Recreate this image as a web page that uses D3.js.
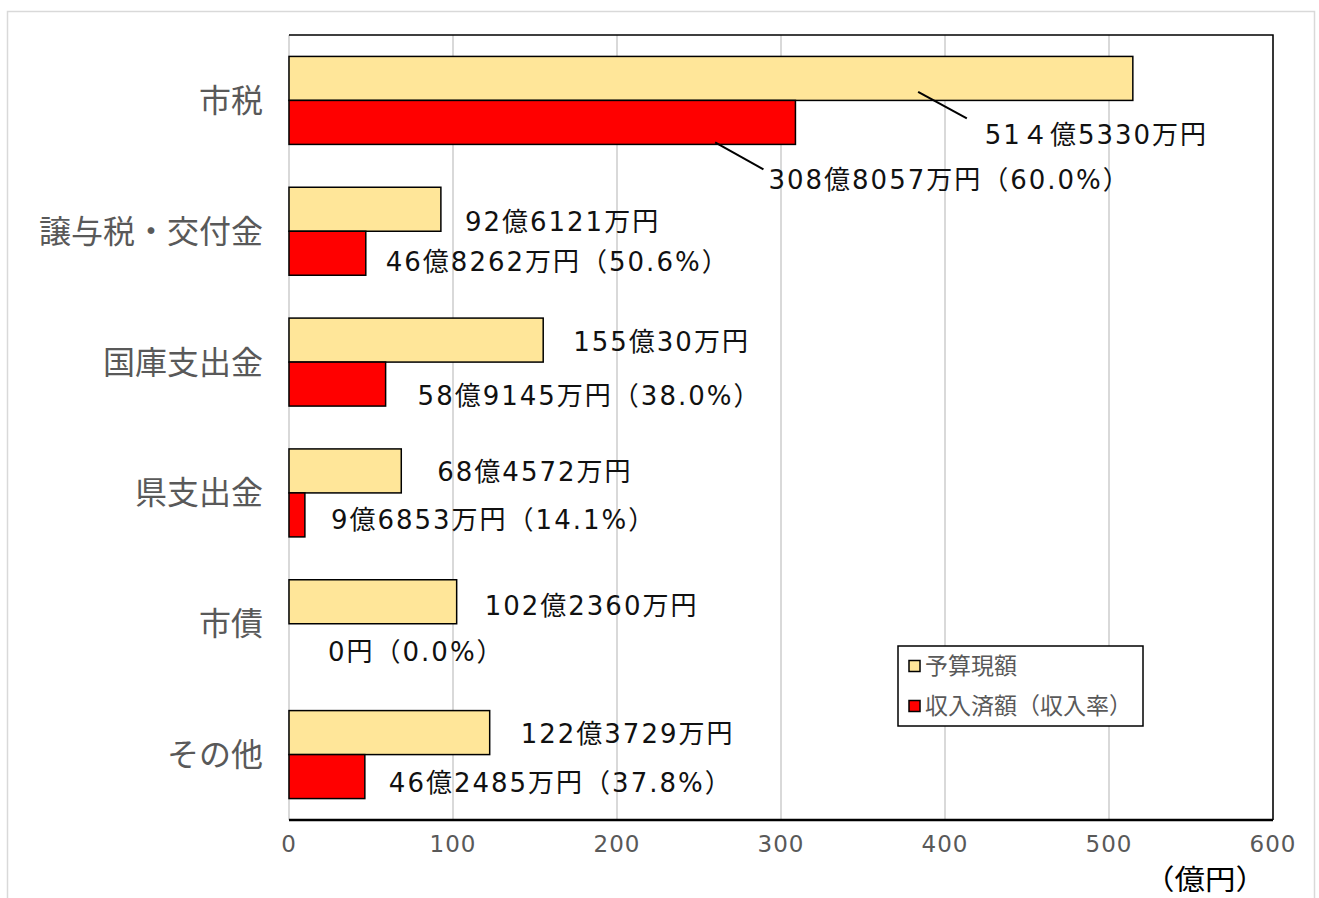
<!DOCTYPE html>
<html>
<head>
<meta charset="utf-8">
<script src="https://cdn.jsdelivr.net/npm/d3@7"></script>
<style>
  body { margin: 0; background: #fff; }
  svg { display: block; }
</style>
</head>
<body>
<div id="chart"></div>
<script>
// data (億円)
const categories = ["市税", "譲与税・交付金", "国庫支出金", "県支出金", "市債", "その他"]
const budget = [514.5330, 92.6121, 155.0030, 68.4572, 102.2360, 122.3729]
const received = [308.8057, 46.8262, 58.9145, 9.6853, 0, 46.2485]
const budgetLabels = ["51４億5330万円", "92億6121万円", "155億30万円", "68億4572万円", "102億2360万円", "122億3729万円"]
const receivedLabels = ["308億8057万円（60.0%）", "46億8262万円（50.6%）", "58億9145万円（38.0%）", "9億6853万円（14.1%）", "0円（0.0%）", "46億2485万円（37.8%）"]
const xTicks = [0, 100, 200, 300, 400, 500, 600]
const seriesNames = ["予算現額", "収入済額（収入率）"]

// label placement (gap from bar end in px, shift from bar centre in px)
const budgetGap = [0, 24, 30, 36, 28, 31]
const budgetDy = [0, 12.5, 1.6, 0.8, 4.3, 0.7]
const receivedGap = [0, 20, 32, 26, 39, 24]
const receivedDy = [0, 8.5, 11.9, 5.1, 6, 6.4]

const width = 1319, height = 898
const mLeft = 289, mRight = 1273, mTop = 35, mBottom = 820
const yellow = "#FFE699", red = "#FF0000"
const labelFont = "'DejaVu Sans', 'Noto Sans CJK JP', sans-serif"
const cjkFont = "'Noto Sans CJK JP', sans-serif"

const svg = d3.select("#chart").append("svg")
  .attr("width", width)
  .attr("height", height)

// outer frame
svg.append("rect")
  .attr("x", 7.5).attr("y", 11.5)
  .attr("width", 1307).attr("height", 900)
  .attr("fill", "#fff")
  .attr("stroke", "#d9d9d9")
  .attr("stroke-width", 1.5)

const x = d3.scaleLinear().domain([0, 600]).range([mLeft, mRight])
const y = d3.scaleBand().domain(categories).range([mTop, mBottom])
const yInner = d3.scaleBand().domain(["b", "r"]).range([0, y.bandwidth()]).paddingOuter(0.487)

// gridlines
svg.append("g")
  .selectAll("line")
  .data(xTicks)
  .join("line")
  .attr("x1", d => x(d)).attr("x2", d => x(d))
  .attr("y1", mTop).attr("y2", mBottom)
  .attr("stroke", "#d9d9d9")
  .attr("stroke-width", 2)

// plot frame (top, right, bottom)
svg.append("path")
  .attr("d", `M${mLeft},${mTop}H${mRight}V${mBottom}`)
  .attr("fill", "none")
  .attr("stroke", "#000")
  .attr("stroke-width", 1.5)
svg.append("line")
  .attr("x1", mLeft).attr("x2", mRight)
  .attr("y1", mBottom).attr("y2", mBottom)
  .attr("stroke", "#000")
  .attr("stroke-width", 2.5)

// bars
const groups = svg.append("g")
  .selectAll("g")
  .data(categories)
  .join("g")
  .attr("transform", d => `translate(0,${y(d)})`)

groups.append("rect")
  .attr("x", x(0))
  .attr("y", yInner("b"))
  .attr("width", (d, i) => x(budget[i]) - x(0))
  .attr("height", yInner.bandwidth())
  .attr("fill", yellow)
  .attr("stroke", "#000")
  .attr("stroke-width", 1.5)

groups.filter((d, i) => received[i] > 0).append("rect")
  .attr("x", x(0))
  .attr("y", yInner("r"))
  .attr("width", d => x(received[categories.indexOf(d)]) - x(0))
  .attr("height", yInner.bandwidth())
  .attr("fill", red)
  .attr("stroke", "#000")
  .attr("stroke-width", 1.5)

// data labels
const bMid = yInner("b") + yInner.bandwidth() / 2
const rMid = yInner("r") + yInner.bandwidth() / 2

groups.each(function (d, i) {
  const g = d3.select(this)
  let bx = x(budget[i]) + budgetGap[i], by = bMid + budgetDy[i]
  let rx = x(received[i]) + receivedGap[i], ry = rMid + receivedDy[i]
  if (i === 0) {
    // 市税: labels pulled out below the bars with leader lines
    bx = x(budget[i]) - 148; by = bMid + 56
    rx = x(received[i]) - 27; ry = rMid + 57.6
    g.append("line")
      .attr("x1", bx - 66.7).attr("y1", by - 42.6)
      .attr("x2", bx - 18).attr("y2", by - 16)
      .attr("stroke", "#000").attr("stroke-width", 2)
    g.append("line")
      .attr("x1", rx - 53.3).attr("y1", ry - 37.7)
      .attr("x2", rx - 5).attr("y2", ry - 10.7)
      .attr("stroke", "#000").attr("stroke-width", 2)
  }
  g.append("text")
    .attr("x", bx).attr("y", by)
    .attr("dy", "0.36em")
    .attr("font-family", labelFont)
    .attr("font-size", 26)
    .attr("letter-spacing", 2)
    .attr("fill", "#111")
    .text(budgetLabels[i])
  g.append("text")
    .attr("x", rx).attr("y", ry)
    .attr("dy", "0.36em")
    .attr("font-family", labelFont)
    .attr("font-size", 26)
    .attr("letter-spacing", 2)
    .attr("fill", "#111")
    .text(receivedLabels[i])
})

// category labels
svg.append("g")
  .selectAll("text")
  .data(categories)
  .join("text")
  .attr("x", 263)
  .attr("y", d => y(d) + y.bandwidth() / 2)
  .attr("dy", "0.36em")
  .attr("text-anchor", "end")
  .attr("font-family", cjkFont)
  .attr("font-size", 32)
  .attr("fill", "#595959")
  .text(d => d)

// x tick labels
svg.append("g")
  .selectAll("text")
  .data(xTicks)
  .join("text")
  .attr("x", d => x(d))
  .attr("y", 844)
  .attr("dy", "0.36em")
  .attr("text-anchor", "middle")
  .attr("font-family", "'DejaVu Sans', sans-serif")
  .attr("font-size", 23)
  .attr("letter-spacing", 1)
  .attr("fill", "#595959")
  .text(d => d)

// unit label
svg.append("text")
  .attr("x", 1144).attr("y", 880)
  .attr("dy", "0.36em")
  .attr("font-family", cjkFont)
  .attr("font-size", 28)
  .attr("textLength", 122)
  .attr("lengthAdjust", "spacingAndGlyphs")
  .attr("fill", "#000")
  .text("（億円）")

// legend
const legend = svg.append("g").attr("transform", "translate(898,646)")
legend.append("rect")
  .attr("width", 245).attr("height", 80)
  .attr("fill", "#fff")
  .attr("stroke", "#000")
  .attr("stroke-width", 1.5)
seriesNames.forEach((name, i) => {
  legend.append("rect")
    .attr("x", 11).attr("y", 20 + i * 40 - 5.5)
    .attr("width", 11).attr("height", 11)
    .attr("fill", i === 0 ? yellow : red)
    .attr("stroke", "#000")
    .attr("stroke-width", 1.5)
  legend.append("text")
    .attr("x", 27).attr("y", 20 + i * 40)
    .attr("dy", "0.36em")
    .attr("font-family", cjkFont)
    .attr("font-size", 23)
    .attr("fill", "#595959")
    .text(name)
})
</script>
</body>
</html>
